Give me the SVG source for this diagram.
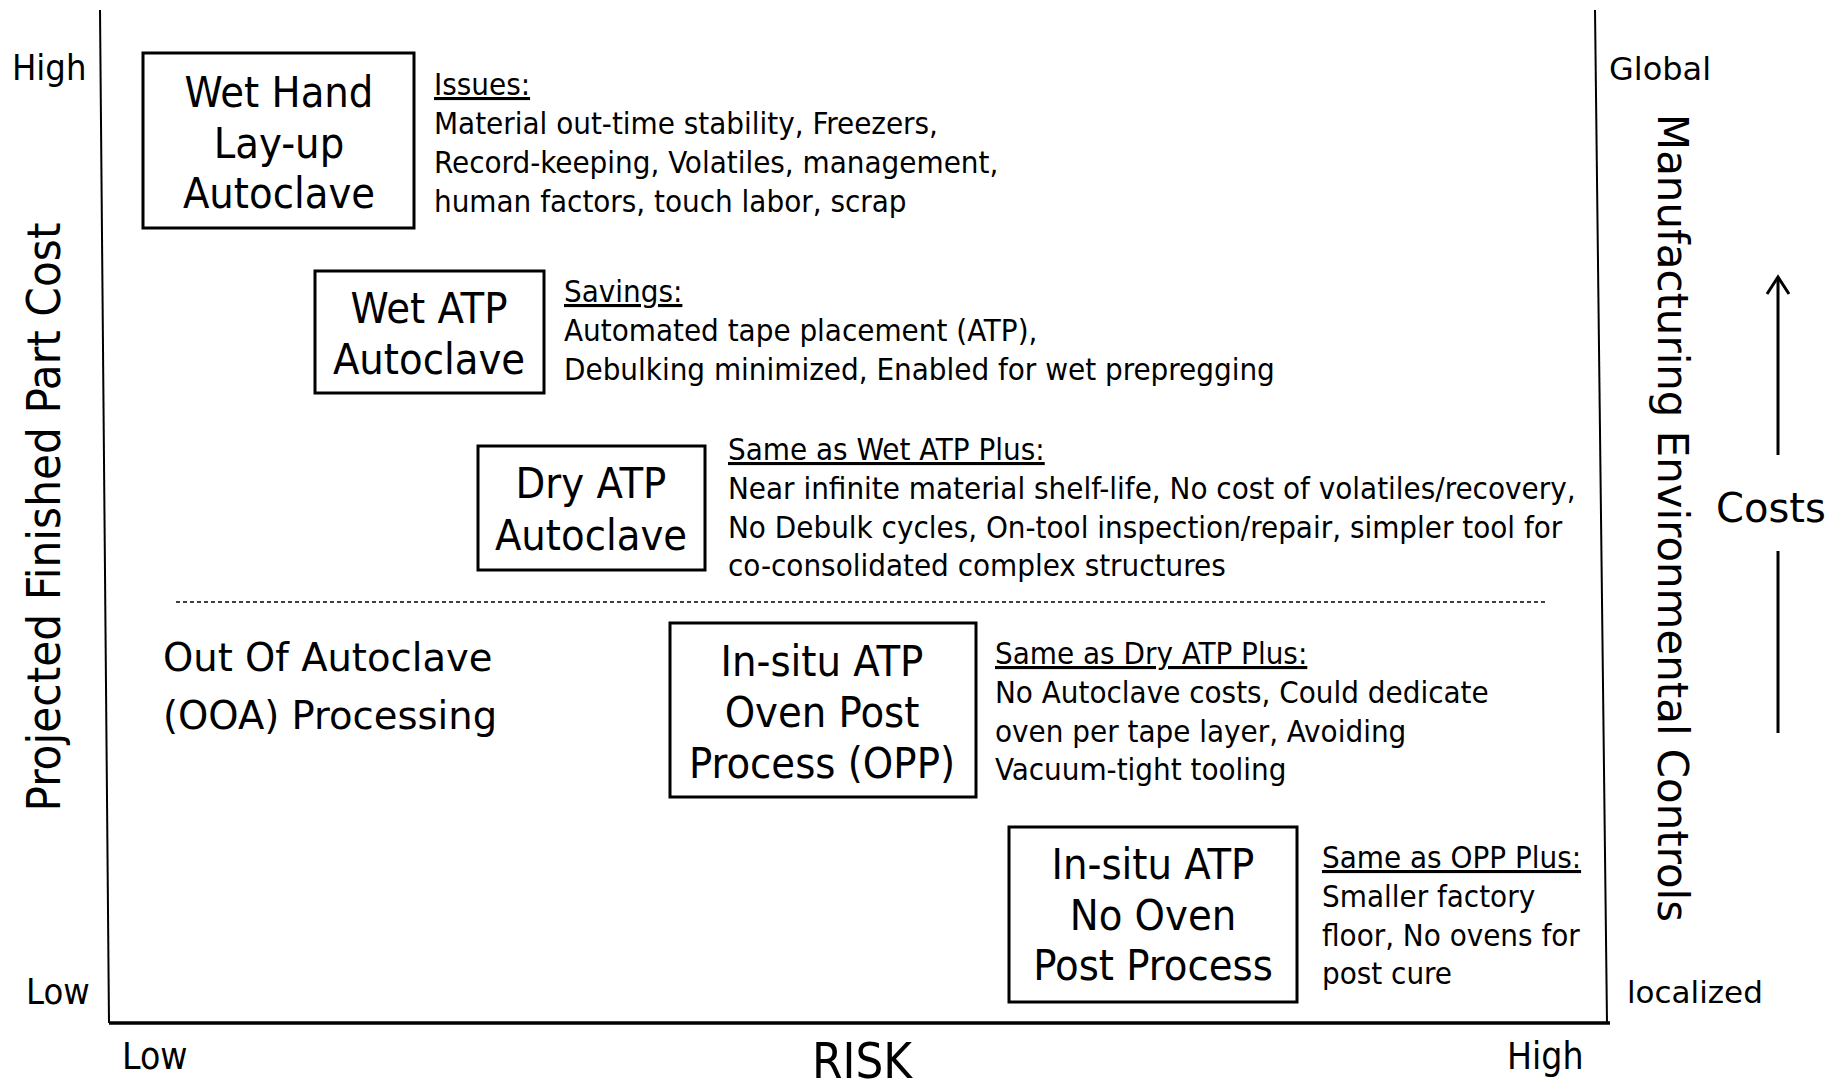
<svg xmlns="http://www.w3.org/2000/svg" width="1839" height="1084" viewBox="0 0 1839 1084">
<style>
  .c { font-family: "DejaVu Sans Condensed", "DejaVu Sans", sans-serif; fill: #000; }
  .v { font-family: "DejaVu Sans", Verdana, sans-serif; fill: #000; }
  .box { fill: #fff; stroke: #000; stroke-width: 3; }
  .bt { font-size: 43px; text-anchor: middle; }
  .dt { font-size: 31px; }
  .hd { text-decoration: underline; }
  .ax { stroke: #000; fill: none; }
</style>
<rect width="1839" height="1084" fill="#fff"/>

<g id="axes">
  <line class="ax" x1="100" y1="10" x2="109" y2="1023" stroke-width="2"/>
  <line class="ax" x1="1595" y1="10" x2="1607" y2="1023" stroke-width="2"/>
  <line class="ax" x1="109" y1="1023" x2="1610" y2="1023" stroke-width="3.5"/>
  <line class="ax" x1="176" y1="602" x2="1546" y2="602" stroke-width="1.5" stroke-dasharray="4 3" stroke="#444"/>
</g>

<g id="axis-labels">
  <text class="c" x="12" y="80" font-size="36">High</text>
  <text class="c" x="26" y="1004" font-size="36">Low</text>
  <text class="c" font-size="46" text-anchor="middle" transform="translate(60,517) rotate(-90)" textLength="589" lengthAdjust="spacingAndGlyphs">Projected Finished Part Cost</text>
  <text class="v" x="1609" y="80" font-size="32">Global</text>
  <text class="v" x="1627" y="1003" font-size="31">localized</text>
  <text class="c" font-size="43" text-anchor="middle" transform="translate(1658,518) rotate(90)" textLength="808" lengthAdjust="spacingAndGlyphs">Manufacturing Environmental Controls</text>
  <text class="c" x="122" y="1069" font-size="37">Low</text>
  <text class="c" x="812" y="1078" font-size="49" textLength="100" lengthAdjust="spacingAndGlyphs">RISK</text>
  <text class="c" x="1507" y="1069" font-size="37">High</text>
  <text class="v" x="1716" y="522" font-size="40">Costs</text>
</g>

<g id="connectors">
  <line class="ax" x1="1778" y1="279" x2="1778" y2="455" stroke-width="3"/>
  <polyline class="ax" points="1767,294 1778,277 1789,294" stroke-width="3"/>
  <line class="ax" x1="1778" y1="551" x2="1778" y2="733" stroke-width="3"/>
</g>

<g id="wet-hand-layup">
  <rect class="box" x="143" y="53" width="271" height="175"/>
  <text class="c bt" x="279" y="107">Wet Hand</text>
  <text class="c bt" x="279" y="158">Lay-up</text>
  <text class="c bt" x="279" y="208">Autoclave</text>
  <text class="c dt" x="434" y="95"><tspan class="hd">Issues:</tspan></text>
  <text class="c dt" x="434" y="134">Material out-time stability, Freezers,</text>
  <text class="c dt" x="434" y="173">Record-keeping, Volatiles, management,</text>
  <text class="c dt" x="434" y="212">human factors, touch labor, scrap</text>
</g>

<g id="wet-atp">
  <rect class="box" x="315" y="271" width="229" height="122"/>
  <text class="c bt" x="429" y="323">Wet ATP</text>
  <text class="c bt" x="429" y="374">Autoclave</text>
  <text class="c dt" x="564" y="302"><tspan class="hd">Savings:</tspan></text>
  <text class="c dt" x="564" y="341">Automated tape placement (ATP),</text>
  <text class="c dt" x="564" y="380">Debulking minimized, Enabled for wet prepregging</text>
</g>

<g id="dry-atp">
  <rect class="box" x="478" y="446" width="227" height="124"/>
  <text class="c bt" x="591" y="498">Dry ATP</text>
  <text class="c bt" x="591" y="550">Autoclave</text>
  <text class="c dt" x="728" y="460"><tspan class="hd">Same as Wet ATP Plus:</tspan></text>
  <text class="c dt" x="728" y="499">Near infinite material shelf-life, No cost of volatiles/recovery,</text>
  <text class="c dt" x="728" y="538">No Debulk cycles, On-tool inspection/repair, simpler tool for</text>
  <text class="c dt" x="728" y="576">co-consolidated complex structures</text>
</g>

<g id="ooa-label">
  <text class="v" x="163" y="671" font-size="38.5">Out Of Autoclave</text>
  <text class="v" x="163" y="729" font-size="38.5">(OOA) Processing</text>
</g>

<g id="insitu-opp">
  <rect class="box" x="670" y="623" width="306" height="174"/>
  <text class="c bt" x="822" y="676">In-situ ATP</text>
  <text class="c bt" x="822" y="727">Oven Post</text>
  <text class="c bt" x="822" y="778">Process (OPP)</text>
  <text class="c dt" x="995" y="664"><tspan class="hd">Same as Dry ATP Plus:</tspan></text>
  <text class="c dt" x="995" y="703">No Autoclave costs, Could dedicate</text>
  <text class="c dt" x="995" y="742">oven per tape layer, Avoiding</text>
  <text class="c dt" x="995" y="780">Vacuum-tight tooling</text>
</g>

<g id="insitu-no-oven">
  <rect class="box" x="1009" y="827" width="288" height="175"/>
  <text class="c bt" x="1153" y="879">In-situ ATP</text>
  <text class="c bt" x="1153" y="930">No Oven</text>
  <text class="c bt" x="1153" y="980">Post Process</text>
  <text class="c dt" x="1322" y="868"><tspan class="hd">Same as OPP Plus:</tspan></text>
  <text class="c dt" x="1322" y="907">Smaller factory</text>
  <text class="c dt" x="1322" y="946">floor, No ovens for</text>
  <text class="c dt" x="1322" y="984">post cure</text>
</g>
</svg>
